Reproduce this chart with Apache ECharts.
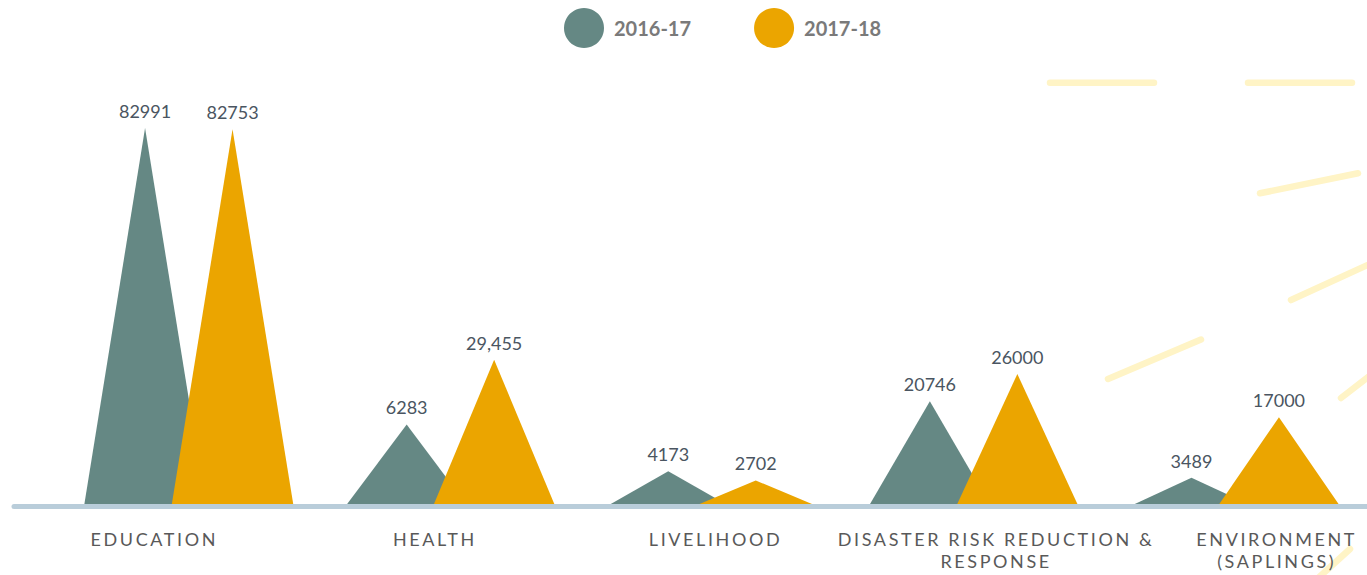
<!DOCTYPE html>
<html>
<head>
<meta charset="utf-8">
<title>Beneficiaries 2016-17 vs 2017-18</title>
<script src="https://cdn.jsdelivr.net/npm/echarts@6/dist/echarts.min.js"></script>
<style>
  html, body { margin: 0; padding: 0; background: #fff; }
  #chart { width: 1367px; height: 575px; }
  /* spaced-out category names under the axis */
  #chart text[fill="#595959"], #chart text[fill="rgb(89,89,89)"] { letter-spacing: 2.6px; }
</style>
</head>
<body>
<div id="chart"></div>
<script>
const categories = [
  'EDUCATION',
  'HEALTH',
  'LIVELIHOOD',
  'DISASTER RISK REDUCTION &\nRESPONSE',
  'ENVIRONMENT\n(SAPLINGS)'
];
const seriesNames = ['2016-17', '2017-18'];

// printed numbers above each peak
const labels2016 = ['82991', '6283', '4173', '20746', '3489'];
const labels2017 = ['82753', '29,455', '2702', '26000', '17000'];

// peak heights as drawn in the source (not all proportional to the printed numbers)
const heights2016 = [82991, 17900, 7600, 23000, 6200];
const heights2017 = [82753, 32100, 5600, 29000, 19500];

const colors = ['#658884', '#eba500'];

const chart = echarts.init(document.getElementById('chart'), null, { renderer: 'svg' });

// pale sun rays in the top right corner (decoration only)
const rays = [
  [1050, 82.7, 1154, 82.7],
  [1248, 82.7, 1352, 82.7],
  [1260, 193.3, 1358, 173.3],
  [1291, 300, 1385, 257],
  [1108, 379, 1201, 339.5],
  [1341, 398, 1385, 364],
  [1316, 580, 1350, 549]
];

function triangleSeries(i, heights, labels) {
  return {
    name: seriesNames[i],
    type: 'pictorialBar',
    xAxisIndex: 0,
    yAxisIndex: 0,
    symbol: 'triangle',
    barWidth: 122,
    barGap: '-28.3%',
    z: 2,
    itemStyle: { color: colors[i] },
    label: {
      show: true,
      position: 'top',
      distance: 8,
      color: '#4a5561',
      fontFamily: 'Lato',
      fontSize: 18,
      formatter: p => labels[p.dataIndex]
    },
    data: heights
  };
}

const option = {
  animation: false,
  color: colors,
  legend: {
    left: 559,
    top: 3,
    icon: 'circle',
    itemWidth: 50,
    itemHeight: 40,
    itemGap: 63,
    textStyle: { fontFamily: 'Lato', fontSize: 20, fontWeight: 'bold', color: '#7a7a7a' },
    data: seriesNames
  },
  grid: [
    { left: 58, right: 1, top: 50.5, bottom: 69, outerBoundsMode: 'none' },
    { left: 14, right: -50, top: 50.5, bottom: 69, outerBoundsMode: 'none' }
  ],
  xAxis: [
    {
      type: 'category',
      gridIndex: 0,
      data: categories,
      axisLine: { show: false },
      axisTick: { show: false },
      axisLabel: { show: false }
    },
    {
      type: 'category',
      gridIndex: 1,
      data: categories,
      z: 10,
      axisLine: { show: true, lineStyle: { color: '#b9cdda', width: 5 } },
      axisTick: { show: false },
      axisLabel: {
        interval: 0,
        margin: 22,
        color: '#595959',
        fontFamily: 'Lato',
        fontSize: 18,
        lineHeight: 22,
        align: 'center'
      }
    }
  ],
  yAxis: [
    { type: 'value', gridIndex: 0, min: 0, max: 100000, show: false },
    { type: 'value', gridIndex: 1, min: 0, max: 100000, show: false }
  ],
  graphic: rays.map(r => ({
    type: 'line',
    z: -10,
    silent: true,
    shape: { x1: r[0], y1: r[1], x2: r[2], y2: r[3] },
    style: { stroke: '#fff4c6', lineWidth: 6.5, lineCap: 'round' }
  })),
  series: [
    triangleSeries(0, heights2016, labels2016),
    triangleSeries(1, heights2017, labels2017)
  ]
};

chart.setOption(option);
</script>
</body>
</html>
